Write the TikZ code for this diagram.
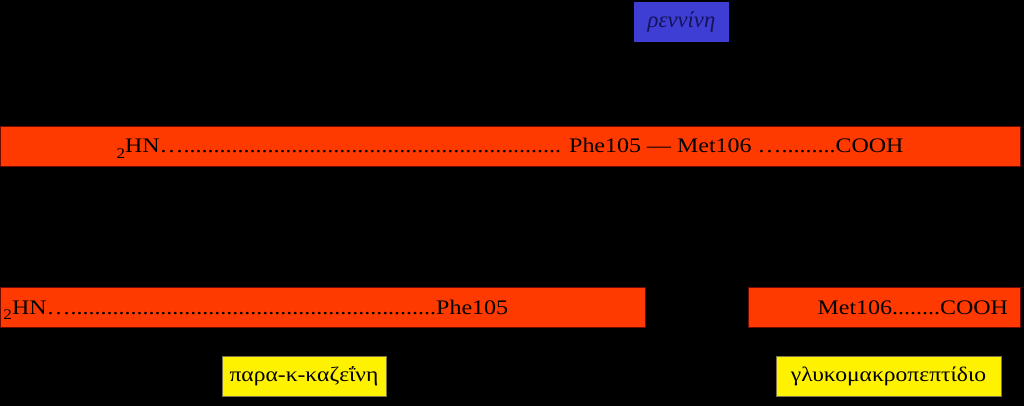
\documentclass[tikz,border=0pt]{standalone}
\usepackage{fontspec}
\usepackage{graphicx}
\setmainfont{Liberation Serif}
\definecolor{chainred}{RGB}{255,58,0}
\definecolor{chainedge}{RGB}{110,10,0}
\definecolor{reninblue}{RGB}{62,62,212}
\definecolor{reninink}{RGB}{20,20,90}
\newcommand{\dotrun}[1]{\foreach \k in {1,...,#1}{.}}
\newcommand{\nterm}{\raisebox{-0.6ex}{\fontsize{11}{11}\selectfont 2}HN\ldots}
\newcommand{\wide}[1]{\scalebox{1.16}[1]{#1}}

\begin{document}
\begin{tikzpicture}[x=0.75pt,y=-0.75pt,
		chain/.style={draw=chainedge,fill=chainred,thin,minimum height=30pt,inner sep=0pt,text height=10.5pt,text depth=0pt,font=\fontsize{15.5}{17}\selectfont},
		enzyme/.style={fill=reninblue,minimum width=71pt,minimum height=30pt,inner sep=0pt,font=\fontsize{17}{19}\selectfont\itshape,text=reninink},
		product/.style={draw=black!60!yellow,fill=yellow,minimum height=30pt,inner sep=0pt,font=\fontsize{15.5}{17}\selectfont}]
	\fill[black] (0,0) rectangle (1024,406);
	\useasboundingbox (0,0) rectangle (1024,406);
	\node[enzyme] (renin) at (681.5,22){ρεννίνη};
	\node[chain,minimum width=765pt] (kappa) at (510,146){\wide{\nterm\dotrun{63} Phe105 --- Met106 \ldots\dotrun{9}COOH}};
	\node[chain,minimum width=483.75pt,text width=478.5pt,align=left] (para) at (322.5,307){\wide{\nterm\dotrun{61}Phe105}};
	\node[chain,minimum width=204pt,text width=186pt,align=right] (gmp) at (884,307){\wide{Met106\dotrun{8}COOH}};
	\node[product,minimum width=123pt] (paralabel) at (304,376.5){\scalebox{1.14}[1]{παρα-κ-καζεΐνη}};
	\node[product,minimum width=168.75pt] (gmplabel) at (888.5,376.5){\scalebox{1.14}[1]{γλυκομακροπεπτίδιο}};
\end{tikzpicture}
\end{document}
